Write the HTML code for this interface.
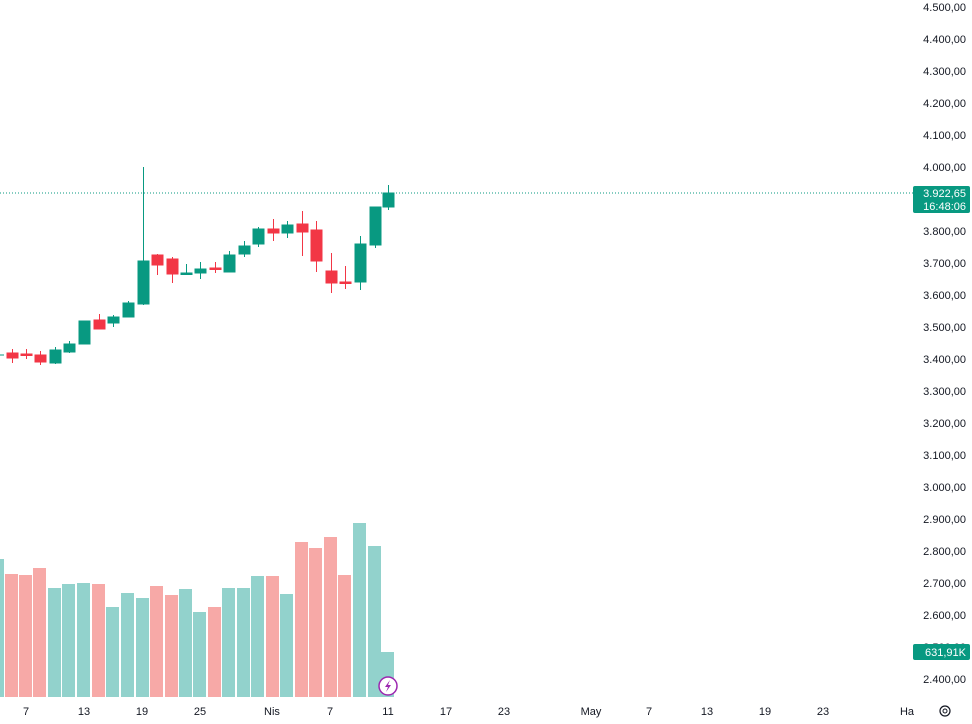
<!DOCTYPE html>
<html><head><meta charset="utf-8"><style>
body{margin:0;background:#fff;width:972px;height:724px;overflow:hidden;font-family:"Liberation Sans",sans-serif}
svg{display:block}
</style></head><body>
<svg width="972" height="724" xmlns="http://www.w3.org/2000/svg" font-family="Liberation Sans, sans-serif">
<g>
<rect x="-9" y="559" width="13" height="138" fill="#92d2cc"/>
<rect x="5" y="574" width="13" height="123" fill="#f7a9a7"/>
<rect x="19" y="575" width="13" height="122" fill="#f7a9a7"/>
<rect x="33" y="568" width="13" height="129" fill="#f7a9a7"/>
<rect x="48" y="588" width="13" height="109" fill="#92d2cc"/>
<rect x="62" y="584" width="13" height="113" fill="#92d2cc"/>
<rect x="77" y="583" width="13" height="114" fill="#92d2cc"/>
<rect x="92" y="584" width="13" height="113" fill="#f7a9a7"/>
<rect x="106" y="607" width="13" height="90" fill="#92d2cc"/>
<rect x="121" y="593" width="13" height="104" fill="#92d2cc"/>
<rect x="136" y="598" width="13" height="99" fill="#92d2cc"/>
<rect x="150" y="586" width="13" height="111" fill="#f7a9a7"/>
<rect x="165" y="595" width="13" height="102" fill="#f7a9a7"/>
<rect x="179" y="589" width="13" height="108" fill="#92d2cc"/>
<rect x="193" y="612" width="13" height="85" fill="#92d2cc"/>
<rect x="208" y="607" width="13" height="90" fill="#f7a9a7"/>
<rect x="222" y="588" width="13" height="109" fill="#92d2cc"/>
<rect x="237" y="588" width="13" height="109" fill="#92d2cc"/>
<rect x="251" y="576" width="13" height="121" fill="#92d2cc"/>
<rect x="266" y="576" width="13" height="121" fill="#f7a9a7"/>
<rect x="280" y="594" width="13" height="103" fill="#92d2cc"/>
<rect x="295" y="542" width="13" height="155" fill="#f7a9a7"/>
<rect x="309" y="548" width="13" height="149" fill="#f7a9a7"/>
<rect x="324" y="537" width="13" height="160" fill="#f7a9a7"/>
<rect x="338" y="575" width="13" height="122" fill="#f7a9a7"/>
<rect x="353" y="523" width="13" height="174" fill="#92d2cc"/>
<rect x="368" y="546" width="13" height="151" fill="#92d2cc"/>
<rect x="381" y="652" width="13" height="45" fill="#92d2cc"/>
</g>
<line x1="0" y1="193" x2="913" y2="193" stroke="#089981" stroke-width="1" stroke-dasharray="1,2"/>
<g stroke-width="1">
<line x1="0" x2="4" y1="355" y2="355" stroke="#089981"/>
<g stroke="#f23645" fill="#f23645">
<line x1="12.5" x2="12.5" y1="349" y2="363"/><rect x="7" y="353" width="11" height="5"/>
<line x1="26.5" x2="26.5" y1="349" y2="359"/><rect x="21" y="354" width="11" height="1.5"/>
<line x1="40.5" x2="40.5" y1="351" y2="365"/><rect x="35" y="355" width="11" height="7"/>
<line x1="99.5" x2="99.5" y1="314" y2="329"/><rect x="94" y="320" width="11" height="9"/>
<line x1="157.5" x2="157.5" y1="254" y2="275"/><rect x="152" y="255" width="11" height="10"/>
<line x1="172.5" x2="172.5" y1="257" y2="283"/><rect x="167" y="259" width="11" height="15"/>
<line x1="215.5" x2="215.5" y1="262" y2="273"/><rect x="210" y="268" width="11" height="1.5"/>
<line x1="273.5" x2="273.5" y1="219" y2="241"/><rect x="268" y="229" width="11" height="4"/>
<line x1="302.5" x2="302.5" y1="211" y2="256"/><rect x="297" y="224" width="11" height="8"/>
<line x1="316.5" x2="316.5" y1="221" y2="272"/><rect x="311" y="230" width="11" height="31"/>
<line x1="331.5" x2="331.5" y1="253" y2="293"/><rect x="326" y="271" width="11" height="12"/>
<line x1="345.5" x2="345.5" y1="266" y2="289"/><rect x="340" y="282" width="11" height="1.5"/>
</g>
<g stroke="#089981" fill="#089981">
<line x1="55.5" x2="55.5" y1="347" y2="364"/><rect x="50" y="350" width="11" height="13"/>
<line x1="69.5" x2="69.5" y1="341" y2="353"/><rect x="64" y="344" width="11" height="8"/>
<line x1="84.5" x2="84.5" y1="321" y2="344"/><rect x="79" y="321" width="11" height="23"/>
<line x1="113.5" x2="113.5" y1="315" y2="327"/><rect x="108" y="317" width="11" height="6"/>
<line x1="128.5" x2="128.5" y1="301" y2="317"/><rect x="123" y="303" width="11" height="14"/>
<line x1="143.5" x2="143.5" y1="167" y2="305"/><rect x="138" y="261" width="11" height="43"/>
<line x1="186.5" x2="186.5" y1="264" y2="275"/><rect x="181" y="273" width="11" height="1.5"/>
<line x1="200.5" x2="200.5" y1="262" y2="279"/><rect x="195" y="269" width="11" height="4"/>
<line x1="229.5" x2="229.5" y1="251" y2="272"/><rect x="224" y="255" width="11" height="17"/>
<line x1="244.5" x2="244.5" y1="241" y2="257"/><rect x="239" y="246" width="11" height="8"/>
<line x1="258.5" x2="258.5" y1="227" y2="247"/><rect x="253" y="229" width="11" height="15"/>
<line x1="287.5" x2="287.5" y1="221" y2="238"/><rect x="282" y="225" width="11" height="8"/>
<line x1="360.5" x2="360.5" y1="236" y2="290"/><rect x="355" y="244" width="11" height="38"/>
<line x1="375.5" x2="375.5" y1="207" y2="248"/><rect x="370" y="207" width="11" height="38"/>
<line x1="388.5" x2="388.5" y1="185" y2="210"/><rect x="383" y="193" width="11" height="14"/>
</g>
</g>
<g font-size="11" fill="#131722" text-anchor="end">
<text x="966" y="11">4.500,00</text><text x="966" y="43">4.400,00</text><text x="966" y="75">4.300,00</text><text x="966" y="107">4.200,00</text><text x="966" y="139">4.100,00</text><text x="966" y="171">4.000,00</text><text x="966" y="235">3.800,00</text><text x="966" y="267">3.700,00</text><text x="966" y="299">3.600,00</text><text x="966" y="331">3.500,00</text><text x="966" y="363">3.400,00</text><text x="966" y="395">3.300,00</text><text x="966" y="427">3.200,00</text><text x="966" y="459">3.100,00</text><text x="966" y="491">3.000,00</text><text x="966" y="523">2.900,00</text><text x="966" y="555">2.800,00</text><text x="966" y="587">2.700,00</text><text x="966" y="619">2.600,00</text><text x="966" y="651">2.500,00</text><text x="966" y="683">2.400,00</text>
</g>
<rect x="913" y="186" width="57" height="27" rx="2" fill="#089981"/>
<text x="966" y="197" font-size="11" fill="#fff" text-anchor="end">3.922,65</text>
<text x="966" y="210" font-size="11" fill="#fff" text-anchor="end">16:48:06</text>
<rect x="913" y="644" width="57" height="16" rx="2" fill="#089981"/>
<text x="966" y="656" font-size="11" fill="#fff" text-anchor="end">631,91K</text>
<circle cx="388" cy="686" r="9" fill="#fff" stroke="#9c27b0" stroke-width="1.5"/>
<path d="M390 680 L385 687 L388 687 L386 692 L391 685 L388 685 Z" fill="#9c27b0"/>
<g font-size="11" fill="#131722" text-anchor="middle">
<text x="26" y="715">7</text><text x="84" y="715">13</text><text x="142" y="715">19</text><text x="200" y="715">25</text><text x="272" y="715">Nis</text><text x="330" y="715">7</text><text x="388" y="715">11</text><text x="446" y="715">17</text><text x="504" y="715">23</text><text x="591" y="715">May</text><text x="649" y="715">7</text><text x="707" y="715">13</text><text x="765" y="715">19</text><text x="823" y="715">23</text><text x="907" y="715">Ha</text>
</g>
<circle cx="945" cy="711" r="5" fill="none" stroke="#131722" stroke-width="1.2"/>
<circle cx="945" cy="711" r="2" fill="none" stroke="#131722" stroke-width="1"/>
</svg>
</body></html>
